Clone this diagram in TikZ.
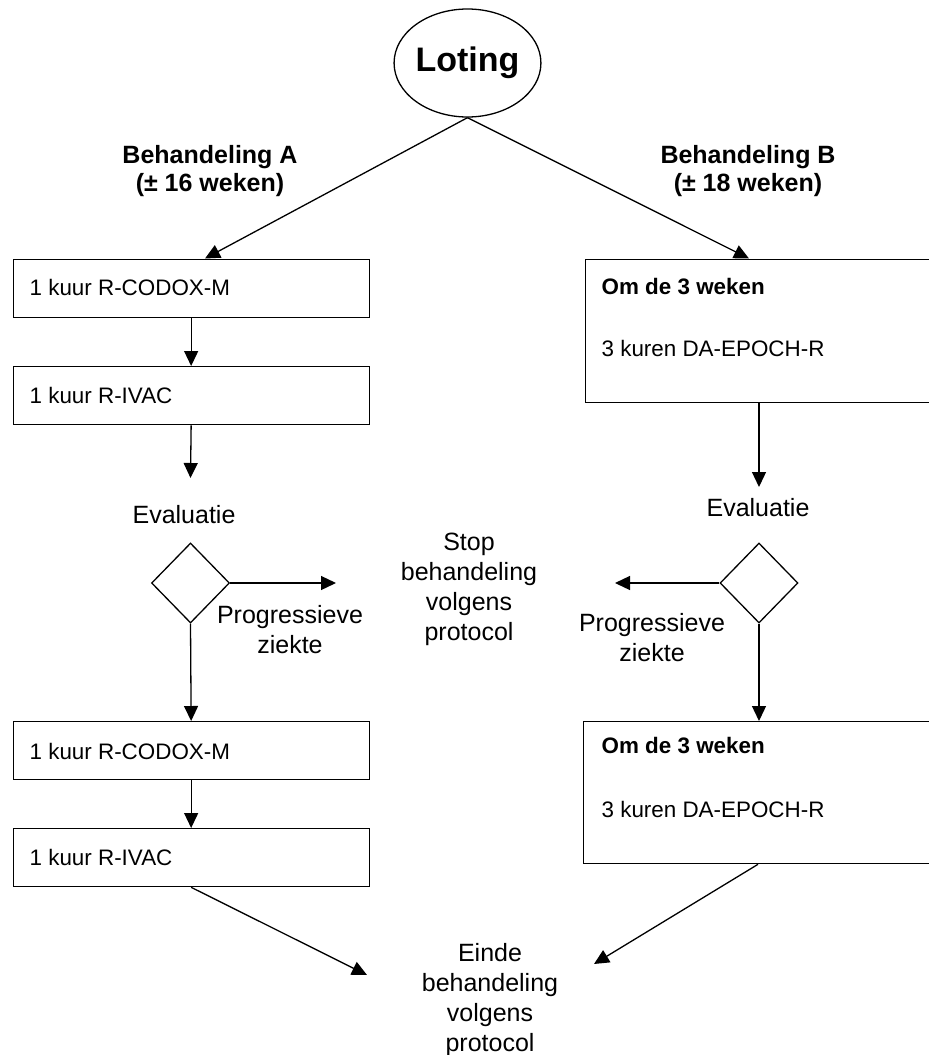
\documentclass[tikz,border=0pt]{standalone}
\usepackage{fontspec}
\setmainfont{Liberation Sans}
\usetikzlibrary{arrows.meta,shapes.geometric}
\begin{document}
\begin{tikzpicture}[x=1pt,y=-1pt,line width=1.3pt,
  boxL/.style={draw,rectangle,minimum width=356pt,minimum height=58pt,inner sep=0pt,anchor=north west},
  boxR/.style={draw,rectangle,minimum width=360pt,minimum height=143pt,inner sep=0pt,anchor=north west},
  txt/.style={font=\fontsize{25}{30}\selectfont,align=center,inner sep=0pt},
  btxt/.style={font=\fontsize{22.4}{27}\selectfont,anchor=west,inner sep=0pt},
  head/.style={font=\fontsize{25}{28}\selectfont\bfseries,align=center,inner sep=0pt},
  dia/.style={draw,diamond,minimum width=78pt,minimum height=80pt,inner sep=0pt},
  arr/.style={-{Triangle[length=15pt,width=14pt]}}]
\useasboundingbox (0,0) rectangle (929,1055);
% top
\node[draw,ellipse,minimum width=129pt,minimum height=108pt,inner sep=0pt,font=\fontsize{34}{40}\selectfont\bfseries] (lot) at (467.5,63) {Loting};
\node[head] (hA) at (210,171) {Behandeling A\\(± 16 weken)};
\node[head] (hB) at (748,171) {Behandeling B\\(± 18 weken)};
% left column
\node[boxL] (a1) at (12.5,258.5) {};
\node[btxt] (ta1) at (29,287) {1 kuur R-CODOX-M};
\node[boxL] (a2) at (12.5,366) {};
\node[btxt] (ta2) at (29,395) {1 kuur R-IVAC};
\coordinate (ea) at (190.5,478);
\node[txt] (evA) at (184,515) {Evaluatie};
\node[dia] (dA) at (190.5,583) {};
\coordinate (pA) at (336,583);
\node[txt] (progA) at (290,630) {Progressieve\\ziekte};
\node[boxL] (a3) at (12.5,721) {};
\node[btxt] (ta3) at (29,751) {1 kuur R-CODOX-M};
\node[boxL] (a4) at (12.5,828) {};
\node[btxt] (ta4) at (29,857) {1 kuur R-IVAC};
% right column
\node[boxR] (b1) at (584.5,258.5) {};
\node[btxt,font=\fontsize{22.4}{27}\selectfont\bfseries] (tb1a) at (601,287) {Om de 3 weken};
\node[btxt] (tb1b) at (601,348) {3 kuren DA-EPOCH-R};
\coordinate (eb) at (759,487);
\node[txt] (evB) at (758,508) {Evaluatie};
\node[dia] (dB) at (759,583) {};
\coordinate (pB) at (615,583);
\node[txt] (progB) at (652,638) {Progressieve\\ziekte};
\node[boxR,minimum height=142pt] (b2) at (583,721) {};
\node[btxt,font=\fontsize{22.4}{27}\selectfont\bfseries] (tb2a) at (601,746) {Om de 3 weken};
\node[btxt] (tb2b) at (601,809) {3 kuren DA-EPOCH-R};
% middle texts
\node[txt] (stop) at (469,589) {Stop\\behandeling\\volgens\\protocol};
\node[txt] (einde) at (490,1000) {Einde\\behandeling\\volgens\\protocol};
\coordinate (eA) at (367,975);
\coordinate (eB) at (594,964);
% connectors
\draw[arr] (lot.south) -- ([xshift=192.5pt]a1.north west);
\draw[arr] (lot.south) -- ([xshift=164.5pt]b1.north west);
\draw[arr] (a1.south) -- (a2.north);
\draw[arr] (a2.south) -- (ea);
\draw[arr] (dA.east) -- (pA);
\draw[arr] (dA.south) -- (a3.north);
\draw[arr] (a3.south) -- (a4.north);
\draw[arr] (a4.south) -- (eA);
\draw[arr] ([xshift=174.5pt]b1.south west) -- (eb);
\draw[arr] (dB.west) -- (pB);
\draw[arr] (dB.south) -- ([xshift=176pt]b2.north west);
\draw[arr] ([xshift=175pt]b2.south west) -- (eB);
\end{tikzpicture}
\end{document}
